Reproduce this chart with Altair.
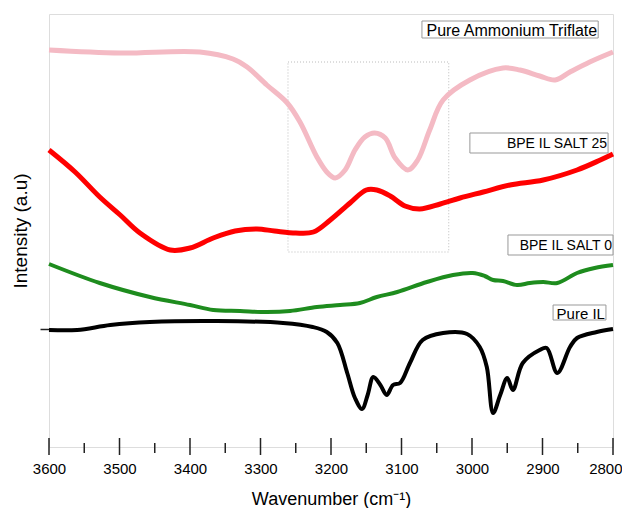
import altair as alt
import pandas as pd

# Pure Ammonium Triflate
pat_x = [3600, 3499, 3386, 3339, 3319, 3291, 3262, 3244, 3220, 3206, 3194, 3180, 3166, 3152, 3138,
         3123, 3109, 3091, 3077, 3060, 3041, 3003, 2956, 2932, 2904, 2882, 2861, 2833, 2800]
pat_y = [397, 394, 395, 388, 380, 362, 344, 325, 290, 275, 269, 277, 297, 310, 314,
         309, 289, 277, 287, 317, 347, 367, 379, 377, 371, 367, 375, 385, 395]

# BPE IL SALT 25
s25_x = [3600, 3563, 3528, 3499, 3471, 3428, 3400, 3367, 3336, 3305, 3280, 3250, 3225, 3201,
         3173, 3150, 3135, 3116, 3095, 3074, 3045, 3017, 2984, 2946, 2899, 2851, 2818, 2800]
s25_y = [297, 275, 250, 232, 214, 197, 199, 209, 216, 218, 216, 214, 215, 227,
         244, 257, 257, 251, 241, 238, 243, 249, 255, 262, 267, 277, 287, 293]

# BPE IL SALT 0
s0_x = [3600, 3528, 3457, 3400, 3367, 3329, 3291, 3258, 3220, 3187, 3159, 3135, 3106,
        3064, 3027, 2999, 2982, 2970, 2956, 2936, 2918, 2899, 2879, 2851, 2826, 2800]
s0_y = [183, 164, 150, 142, 137, 136, 135, 136, 140, 142, 144, 150, 155,
        165, 172, 174, 171, 167, 166, 162, 164, 165, 164, 174, 179, 182]

# Pure IL
il_x = [3600, 3560, 3513, 3457, 3362, 3268, 3226, 3206, 3191, 3177, 3166, 3156, 3148, 3140,
        3130, 3121, 3112, 3102, 3088, 3070, 3041, 3007, 2989, 2979, 2970, 2960, 2950, 2942,
        2928, 2904, 2894, 2879, 2861, 2851, 2823, 2800]
il_y = [117, 117, 122, 125, 126, 124, 120, 115, 104, 74, 49, 38, 52, 70,
        62, 52, 62, 64, 84, 107, 114, 113, 100, 80, 34, 52, 69, 57,
        84, 97, 99, 74, 100, 109, 115, 118]

series_names = ["Pure Ammonium Triflate", "BPE IL SALT 25", "BPE IL SALT 0", "Pure IL"]
series_colors = ["#F4BAC4", "#FF0000", "#1E8C1E", "#000000"]
series_widths = [5, 5, 4, 4]

# Label boxes (x_left, x_right, y_top, y_bottom)
box_x1 = [3071, 3003, 2949, 2885]
box_x2 = [2821, 2807, 2800, 2810]
box_y1 = [426, 314, 212, 142]
box_y2 = [409, 294, 192, 127]
box_font = [16, 14, 14, 15]

# Dotted highlight region
hl_x1, hl_x2, hl_y1, hl_y2 = 3261, 3033, 385, 195

major_ticks = list(range(2800, 3601, 100))
minor_ticks = list(range(2850, 3600, 100))
y_tick = [118]

FONT = "Liberation Sans"

rows = []
for name, xs, ys in zip(series_names, [pat_x, s25_x, s0_x, il_x], [pat_y, s25_y, s0_y, il_y]):
    for a, b in zip(xs, ys):
        rows.append({"series": name, "w": a, "i": b})
df = pd.DataFrame(rows)

xscale = alt.Scale(domain=[2800, 3600], reverse=True, nice=False, zero=False)
yscale = alt.Scale(domain=[0, 433], nice=False, zero=False)

xaxis = alt.Axis(values=major_ticks, format="d", ticks=False, labelFontSize=15, labelFont=FONT,
                 labelColor="#000", labelPadding=14, title="Wavenumber (cm⁻¹)",
                 labelAlign={"condition": {"test": "datum.value == 2800", "value": "right"}, "value": "center"},
                 labelOffset={"condition": {"test": "datum.value == 2800", "value": 9}, "value": 0},
                 titleFontSize=18, titleFont=FONT, titleFontWeight="normal",
                 titleColor="#000", titlePadding=14, domain=False, grid=False,
                 labelFlush=False)
yaxis = alt.Axis(values=y_tick, labels=False, tickSize=9, tickColor="#222", tickWidth=1.5,
                 title="Intensity (a.u)", titleFontSize=19, titleFont=FONT,
                 titleFontWeight="normal", titleColor="#000", titlePadding=9,
                 domain=False, grid=False)

layers = []
for name, col, sw in zip(series_names, series_colors, series_widths):
    layers.append(
        alt.Chart(df[df.series == name]).mark_line(color=col, strokeWidth=sw, interpolate="catmull-rom")
        .encode(x=alt.X("w:Q", scale=xscale, axis=xaxis), y=alt.Y("i:Q", scale=yscale, axis=yaxis))
    )

hl_df = pd.DataFrame({"x1": [hl_x1], "x2": [hl_x2], "y1": [hl_y1], "y2": [hl_y2]})
hl = alt.Chart(hl_df).mark_rect(fill=None, fillOpacity=0, stroke="#BBBBBB", strokeWidth=1,
                                strokeDash=[1, 2]).encode(
    x=alt.X("x1:Q", scale=xscale), x2="x2:Q", y=alt.Y("y1:Q", scale=yscale), y2="y2:Q")

box_df = pd.DataFrame({"label": series_names, "x1": box_x1, "x2": box_x2,
                       "y1": box_y1, "y2": box_y2, "fs": box_font})
box_df["ym"] = [(a + b) / 2 for a, b in zip(box_y1, box_y2)]
boxes = alt.Chart(box_df).mark_rect(fill="white", stroke="#999999", strokeWidth=1).encode(
    x=alt.X("x1:Q", scale=xscale), x2="x2:Q", y=alt.Y("y1:Q", scale=yscale), y2="y2:Q")
texts = []
for i, lab in enumerate(series_names):
    texts.append(alt.Chart(box_df.iloc[[i]]).mark_text(
        align="right", baseline="middle", font=FONT, fontSize=box_font[i], dx=-1, dy=1,
        color="#000").encode(
        x=alt.X("x2:Q", scale=xscale), y=alt.Y("ym:Q", scale=yscale), text="label:N"))

maj_df = pd.DataFrame({"t": major_ticks})
min_df = pd.DataFrame({"t": minor_ticks})
maj = alt.Chart(maj_df).mark_rule(color="#222", strokeWidth=1.5).encode(
    x=alt.X("t:Q", scale=xscale), y=alt.value(424), y2=alt.value(441))
mnr = alt.Chart(min_df).mark_rule(color="#222", strokeWidth=1.5).encode(
    x=alt.X("t:Q", scale=xscale), y=alt.value(429), y2=alt.value(439))

chart = alt.layer(hl, *layers, boxes, *texts, maj, mnr).properties(
    width=564, height=433,
    autosize=alt.AutoSizeParams(type="none"),
    padding={"left": 41, "top": 6, "right": 9, "bottom": 61},
).configure_view(stroke="#222", strokeWidth=1.5).configure(background="white")

chart.save("out.html", embed_options={"renderer": "svg", "actions": False})
